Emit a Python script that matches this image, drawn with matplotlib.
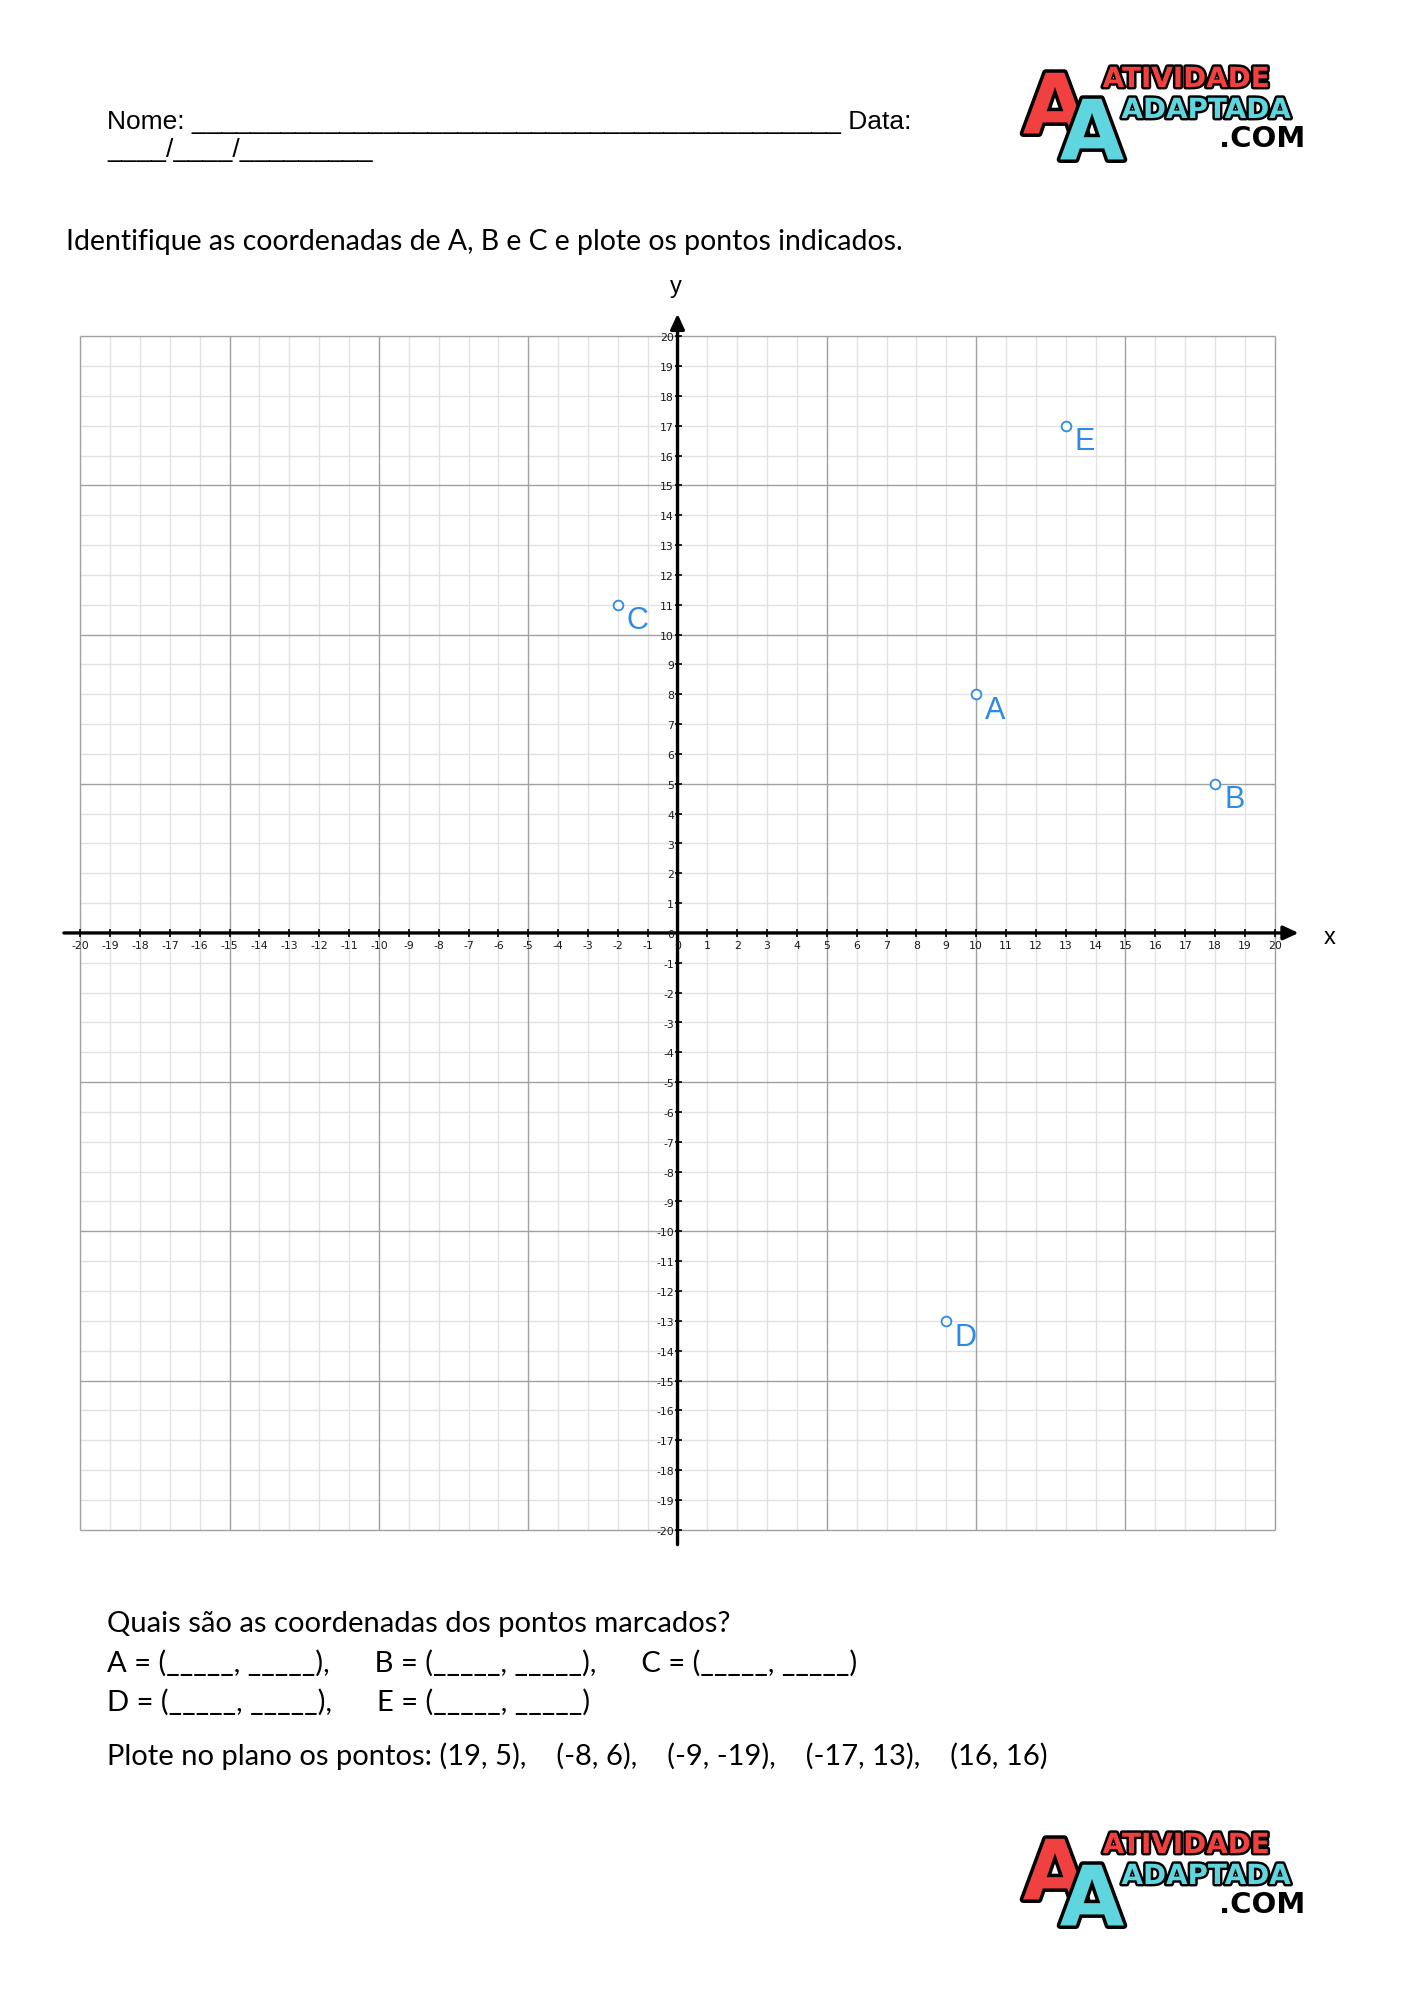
"""
:synopsis: Worksheet with a cartesian plane and five marked points.
"""

# third party imports
import matplotlib
matplotlib.use('Agg')
from matplotlib import pyplot
from matplotlib import patheffects

# marked points on the plane
point_names = ['A', 'B', 'C', 'D', 'E']
point_x = [10, 18, -2, 9, 13]
point_y = [8, 5, 11, -13, 17]

# axis ticks and labels
tick_values = list(range(-20, 21))
tick_labels = [str(v) for v in tick_values]
major_step = 5

# worksheet texts
header_line = 'Nome: ' + '_' * 44 + ' Data:'
date_line = '_' * 4 + '/' + '_' * 4 + '/' + '_' * 9
title_line = 'Identifique as coordenadas de A, B e C e plote os pontos indicados.'
question_lines = [
    'Quais são as coordenadas dos pontos marcados?',
    'A = (_____, _____),      B = (_____, _____),      C = (_____, _____)',
    'D = (_____, _____),      E = (_____, _____)',
    'Plote no plano os pontos: (19, 5),    (-8, 6),    (-9, -19),    (-17, 13),    (16, 16)',
]
question_baselines = [1632, 1672, 1711, 1765]

W, H = 1414, 2000
BLUE = '#2e8ae6'
RED = '#f0403f'
CYAN = '#5fd5df'


def px(x, y):
    """Convert pixel position (from top left) to figure fraction."""
    return x / W, 1 - y / H


def draw_logo(fig, top):
    """Draw the AtividadeAdaptada logo with its top edge at pixel row top."""
    outline = [patheffects.withStroke(linewidth=5, foreground='black')]
    thin = [patheffects.withStroke(linewidth=3.5, foreground='black')]
    fam = ['DejaVu Sans']
    fig.text(*px(1055, top + 46), 'A', fontsize=60, color=RED,
             weight='bold', family=fam, ha='center', va='center',
             path_effects=outline)
    fig.text(*px(1092, top + 72), 'A', fontsize=60, color=CYAN,
             weight='bold', family=fam, ha='center', va='center',
             path_effects=outline)
    fig.text(*px(1186, top + 15), 'ATIVIDADE', fontsize=20, color=RED,
             weight='bold', family=fam, ha='center', va='center',
             path_effects=thin)
    fig.text(*px(1206, top + 46), 'ADAPTADA', fontsize=20, color=CYAN,
             weight='bold', family=fam, ha='center', va='center',
             path_effects=thin)
    fig.text(*px(1262, top + 75), '.COM', fontsize=21, color='black',
             weight='bold', family=fam, ha='center', va='center')


fig = pyplot.figure(figsize=(W / 100, H / 100), dpi=100)

# header
fig.text(*px(107, 129), header_line, fontsize=19, family='Liberation Sans',
         va='baseline')
fig.text(*px(107, 157), date_line, fontsize=19, family='Liberation Sans',
         va='baseline')
fig.text(*px(66, 250), title_line, fontsize=20.4, family='Lato',
         va='baseline')

# cartesian plane
ax = fig.add_axes([0.01457, 0.2053, 0.9503, 0.65645])
ax.set_xlim(-22, 23)
ax.set_ylim(-22, 22)
ax.axis('off')

minor = [v for v in tick_values if v % major_step]
major = [v for v in tick_values if v % major_step == 0 and v != 0]
ax.vlines(minor, -20, 20, colors='#e2e2e2', lw=1.0, zorder=1)
ax.hlines(minor, -20, 20, colors='#e2e2e2', lw=1.0, zorder=1)
ax.vlines(major, -20, 20, colors='#a0a0a0', lw=1.0, zorder=2)
ax.hlines(major, -20, 20, colors='#a0a0a0', lw=1.0, zorder=2)

arrow = dict(arrowstyle='-|>,head_length=0.65,head_width=0.3', color='black',
             lw=2.4, shrinkA=0, shrinkB=0, mutation_scale=14)
ax.annotate('', xy=(20.8, 0), xytext=(-20.55, 0), arrowprops=arrow, zorder=4)
ax.annotate('', xy=(0, 20.75), xytext=(0, -20.5), arrowprops=arrow, zorder=4)

ticks = [v for v in tick_values if v != 0]
ax.vlines(ticks, -0.13, 0.13, colors='black', lw=1.2, zorder=4)
ax.hlines(ticks, -0.08, 0.16, colors='black', lw=1.2, zorder=4)
for v, lab in zip(tick_values, tick_labels):
    ax.text(v, -0.45, lab, ha='center', va='center', fontsize=7.8,
            color='#1a1a1a', zorder=5)
    ax.text(-0.12, v - 0.07, lab, ha='right', va='center', fontsize=7.8,
            color='#1a1a1a', zorder=5)

ax.text(21.85, -0.17, 'x', ha='center', va='center', fontsize=17,
        family='Liberation Sans')
ax.text(-0.05, 21.65, 'y', ha='center', va='center', fontsize=17,
        family='Liberation Sans')

ax.plot(point_x, point_y, 'o', ls='none', mfc='white', mec=BLUE, ms=7,
        mew=1.3, zorder=6)
for name, x, y in zip(point_names, point_x, point_y):
    ax.annotate(name, (x, y), xytext=(14, -12), textcoords='offset points',
                ha='center', va='center', fontsize=22, color=BLUE,
                family='Liberation Sans', zorder=6)

# questions
for line, base in zip(question_lines, question_baselines):
    fig.text(*px(107, base), line, fontsize=21, family='Lato', va='baseline')

draw_logo(fig, 64)
draw_logo(fig, 1830)

fig.savefig('out.png', dpi=100, facecolor='white')
